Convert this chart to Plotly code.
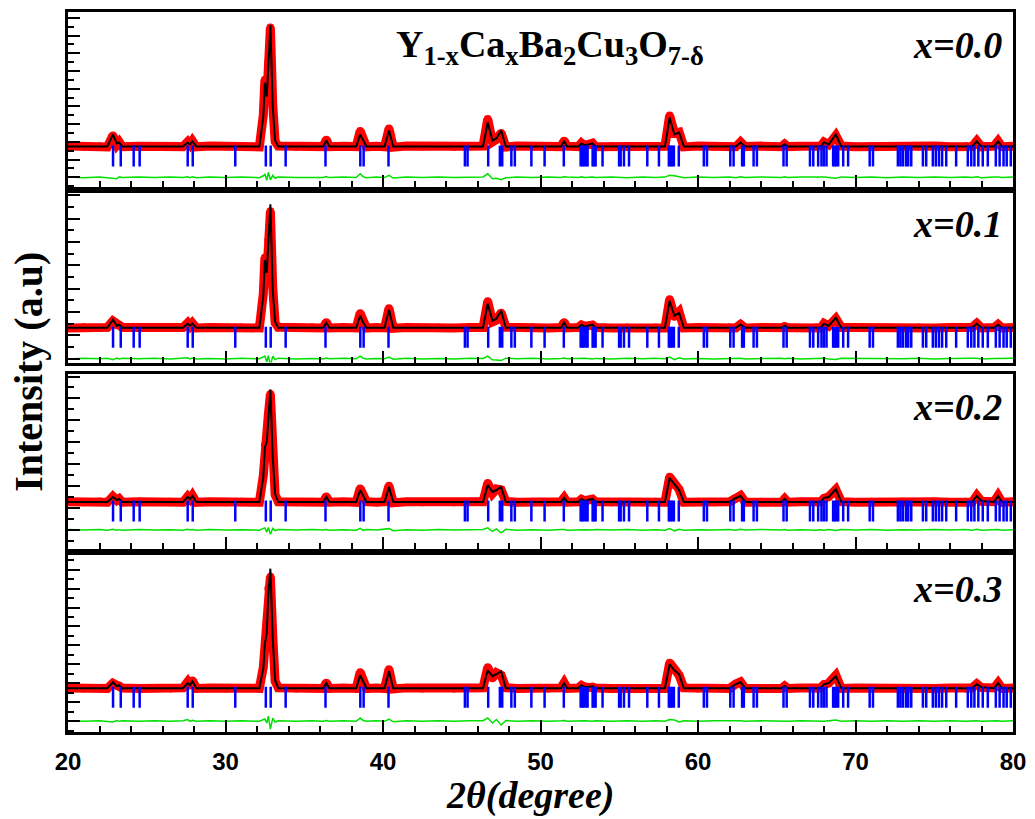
import plotly.graph_objects as go
from plotly.subplots import make_subplots

# ---------------- data ----------------
# common 2-theta grid (degrees)
two_theta = [
    20.0, 21.0, 22.0, 22.5, 22.85, 23.1, 23.25, 23.45, 24.5, 25.5,
    26.5, 27.3, 27.6, 27.75, 27.9, 28.15, 29.0, 30.0, 31.0, 32.15,
    32.4, 32.5, 32.62, 32.72, 32.85, 33.0, 33.15, 33.35, 34.5, 35.5,
    36.2, 36.4, 36.6, 37.5, 38.3, 38.55, 38.75, 38.95, 39.6, 40.1,
    40.38, 40.65, 41.5, 42.5, 43.5, 44.5, 45.5, 46.35, 46.65, 46.95,
    47.2, 47.5, 47.8, 48.5, 49.5, 50.5, 51.3, 51.5, 51.7, 52.4,
    52.6, 52.8, 53.3, 53.5, 54.5, 55.5, 56.5, 57.3, 57.9, 58.2,
    58.5, 58.8, 59.1, 60.0, 61.0, 62.0, 62.4, 62.7, 63.0, 64.0,
    65.3, 65.5, 65.7, 66.5, 67.5, 67.8, 68.0, 68.3, 68.75, 69.1,
    70.0, 71.0, 72.0, 73.0, 74.0, 75.0, 76.0, 77.0, 77.4, 77.7,
    78.0, 78.8, 79.05, 79.3, 80.0,
]

# calculated intensity above background (a.u.)
calc_x00 = [
    0, 0, 0, 0, 12, 3, 4, 0, 0, 0,
    0, 0, 4, 2, 5, 0, 0, 0, 0, 0,
    30, 64, 50, 80, 122, 40, 6, 0, 0, 0,
    0, 6, 0, 0, 0, 12, 6, 0, 0, 0,
    16, 0, 0, 0, 0, 0, 0, 0, 24, 6,
    8, 16, 0, 0, 0, 0, 0, 5, 0, 0,
    3, 1, 3, 0, 0, 0, 0, 0, 0, 29,
    12, 14, 0, 0, 0, 0, 0, 4, 0, 0,
    0, 2, 0, 0, 0, 0, 4, 2, 12, 0,
    0, 0, 0, 0, 0, 0, 0, 0, 0, 5,
    0, 0, 5, 0, 0,
]
calc_x01 = [
    0, 0, 0, 0, 8, 2, 3, 0, 0, 0,
    0, 0, 4, 2, 4, 0, 0, 0, 0, 0,
    32, 68, 55, 85, 124, 38, 6, 0, 0, 0,
    0, 5, 0, 0, 0, 12, 5, 0, 0, 0,
    18, 0, 0, 0, 0, 0, 0, 0, 24, 7,
    9, 17, 0, 0, 0, 0, 0, 5, 0, 0,
    3, 1, 3, 0, 0, 0, 0, 0, 0, 27,
    12, 15, 0, 0, 0, 0, 0, 3, 0, 0,
    0, 2, 0, 0, 0, 0, 4, 2, 10, 0,
    0, 0, 0, 0, 0, 0, 0, 0, 0, 4,
    0, 0, 3, 0, 0,
]
calc_x02 = [
    0, 0, 0, 0, 5, 2, 3, 0, 0, 0,
    0, 0, 5, 3, 6, 0, 0, 0, 0, 0,
    25, 55, 60, 85, 113, 45, 8, 0, 0, 0,
    0, 5, 0, 0, 0, 12, 6, 0, 0, 0,
    15, 0, 0, 0, 0, 0, 0, 0, 17, 10,
    12, 15, 0, 0, 0, 0, 0, 4, 0, 0,
    3, 1, 3, 0, 0, 0, 0, 0, 0, 24,
    18, 12, 0, 0, 0, 0, 4, 6, 0, 0,
    0, 3, 0, 0, 0, 0, 4, 5, 13, 0,
    0, 0, 0, 0, 0, 0, 0, 0, 0, 6,
    1, 0, 6, 0, 0,
]
calc_x03 = [
    0, 0, 0, 0, 6, 2, 3, 0, 0, 0,
    0, 0, 5, 3, 7, 0, 0, 0, 0, 0,
    20, 45, 55, 95, 120, 50, 8, 0, 0, 0,
    0, 5, 0, 0, 0, 13, 6, 0, 0, 0,
    17, 0, 0, 0, 0, 0, 0, 0, 18, 12,
    14, 17, 0, 0, 0, 0, 0, 5, 0, 0,
    3, 1, 2, 0, 0, 0, 0, 0, 0, 24,
    18, 14, 0, 0, 0, 0, 4, 6, 0, 0,
    0, 2, 0, 0, 0, 0, 4, 5, 12, 0,
    0, 0, 0, 0, 0, 0, 0, 0, 0, 4,
    1, 0, 5, 0, 0,
]

# difference Yobs - Ycalc (a.u.)
diff_x00 = [
    0.3, -0.4, 0.2, -0.5, -1.0, -1.5, 0.5, -0.3, 0.2, -0.3,
    0.4, -0.2, 0.6, -0.3, 0.5, -0.4, 0.3, -0.2, 0.2, -0.4,
    1.5, 3.0, -3.0, 5.0, -2.5, 2.0, -1.0, 0.3, -0.3, 0.2,
    -0.2, 0.8, -0.3, 0.2, -0.2, 3.5, 0.5, -0.4, 0.2, -0.3,
    2.0, -0.8, 0.3, -0.2, 0.4, -0.3, 0.2, 0.3, 3.5, -1.5,
    -1.0, -2.5, -0.5, 0.3, -0.3, 0.2, -0.2, 0.6, 0.2, -0.3,
    0.4, -0.2, 0.3, -0.3, 0.2, -0.4, 0.3, -0.2, 0.2, 2.0,
    1.5, 0.3, -0.5, 0.3, -0.3, 0.2, -0.4, 0.5, -0.2, 0.3,
    -0.3, 0.4, -0.2, 0.2, -0.3, 0.3, 0.4, -0.2, -1.0, 0.4,
    -0.3, 0.2, -0.4, 0.3, -0.2, 0.3, -0.3, 0.2, -0.2, 0.5,
    -0.4, 0.3, 0.4, -0.3, 0.2,
]
diff_x01 = [
    -0.3, 0.4, -0.2, 0.3, -1.2, 0.5, -0.4, 0.3, -0.2, 0.4,
    -0.3, 0.2, 0.8, -0.4, 0.6, -0.3, 0.2, -0.4, 0.3, -0.2,
    2.0, 2.5, -3.5, 3.0, -7.0, 2.5, -1.0, 0.4, -0.3, 0.2,
    -0.3, 0.5, -0.2, 0.3, -0.2, 2.5, 0.4, -0.3, 0.2, -0.2,
    1.5, -0.6, 0.3, -0.3, 0.2, -0.4, 0.3, 0.2, 2.5, -1.2,
    -1.5, -2.0, 0.4, -0.2, 0.3, -0.3, 0.2, 0.5, -0.2, 0.3,
    -0.2, 0.3, -0.3, 0.2, -0.4, 0.3, -0.2, 0.3, -0.2, 1.5,
    -1.0, 0.8, -0.3, 0.2, -0.3, 0.3, -0.2, 0.4, -0.3, 0.2,
    0.3, -0.2, 0.3, -0.3, 0.2, -0.2, 0.3, -0.3, -0.8, 0.3,
    0.2, -0.3, 0.3, -0.2, 0.3, -0.3, 0.2, -0.2, 0.3, 0.4,
    -0.3, 0.2, 0.3, -0.2, 0.3,
]
diff_x02 = [
    0.3, -0.2, 0.4, -0.3, 0.6, -0.4, 0.2, -0.3, 0.3, -0.2,
    0.2, -0.3, 0.5, -0.2, 0.4, -0.3, 0.3, -0.2, 0.2, -0.3,
    1.5, 2.0, -2.5, 2.5, -4.5, 1.5, -0.8, 0.3, -0.2, 0.3,
    -0.2, 0.4, -0.3, 0.2, -0.3, 1.5, -0.5, 0.3, -0.2, 0.3,
    1.2, -0.8, 0.2, -0.3, 0.3, -0.2, 0.3, 0.3, 2.0, -1.5,
    1.0, -3.0, 0.5, -0.3, 0.2, -0.3, 0.3, 0.4, -0.3, 0.2,
    -0.3, 0.2, -0.2, 0.3, -0.2, 0.3, -0.3, 0.2, -0.3, 1.2,
    -1.0, 0.6, -0.3, 0.2, -0.2, 0.3, -0.3, 0.5, -0.2, 0.3,
    -0.2, 0.3, -0.3, 0.2, -0.3, 0.2, -0.3, 0.3, -0.6, 0.3,
    -0.2, 0.3, -0.3, 0.2, -0.2, 0.3, -0.2, 0.3, -0.3, 0.5,
    -0.4, 0.2, 0.4, -0.3, 0.2,
]
diff_x03 = [
    0.3, -0.3, 0.2, -0.4, -1.0, 0.4, -0.3, 0.2, -0.3, 0.3,
    -0.2, 0.3, 1.5, -0.4, 0.8, -0.3, 0.2, -0.3, 0.3, -0.2,
    1.0, 2.0, -2.0, 5.0, -8.0, 3.0, -1.0, 0.3, -0.3, 0.2,
    -0.3, 0.5, -0.2, 0.3, -0.2, 3.0, 0.5, -0.3, 0.2, -0.3,
    2.0, -0.8, 0.3, -0.2, 0.3, -0.3, 0.2, 0.4, 3.0, -2.0,
    1.5, -4.0, 0.5, -0.3, 0.3, -0.2, 0.3, 0.5, -0.3, 0.2,
    -0.2, 0.3, -0.3, 0.2, -0.3, 0.2, -0.3, 0.3, -0.2, 1.5,
    1.0, -1.0, 0.3, -0.2, 0.3, -0.3, 0.2, 0.4, -0.3, 0.2,
    -0.3, 0.2, -0.2, 0.3, -0.2, 0.3, -0.3, 0.2, 1.0, -0.3,
    0.3, -0.2, 0.3, -0.3, 0.2, -0.3, 0.2, -0.3, 0.2, 0.3,
    -0.3, 0.3, 0.4, -0.2, 0.3,
]

# Bragg reflection positions (degrees)
bragg_positions = [
    22.86, 23.35, 24.17, 24.55, 27.60, 27.92, 30.62, 32.56, 32.87, 33.82,
    36.35, 38.56, 38.77, 40.35, 45.20, 45.37, 46.68, 47.42, 47.57, 48.15,
    48.37, 49.42, 50.26, 51.48, 52.55, 52.65, 52.75, 52.90, 52.99, 53.31,
    53.40, 53.50, 53.94, 54.99, 55.09, 55.30, 55.62, 56.78, 57.52, 58.15,
    58.25, 58.35, 58.47, 58.78, 60.37, 60.57, 62.05, 62.26, 62.80, 62.91,
    63.53, 63.74, 65.43, 65.63, 67.11, 67.32, 67.63, 67.84, 67.99, 68.16,
    68.58, 68.68, 68.78, 68.90, 69.22, 69.53, 70.90, 71.11, 72.69, 72.85,
    73.00, 73.20, 73.35, 73.54, 74.28, 74.49, 74.91, 75.10, 75.30, 75.50,
    75.76, 76.39, 77.13, 77.35, 77.55, 77.80, 78.08, 78.40, 78.91, 79.15,
    79.40, 79.60, 79.86,
]

panel_labels = ["x=0.0", "x=0.1", "x=0.2", "x=0.3"]
x_tick_values = [20, 30, 40, 50, 60, 70, 80]

# ---------------- layout settings ----------------
calcs = [calc_x00, calc_x01, calc_x02, calc_x03]
diffs = [diff_x00, diff_x01, diff_x02, diff_x03]
y_ranges = [(-41, 135), (-35, 135), (-47, 129), (-44, 134)]
diff_offsets = [-31, -31, -28, -33]
bragg_offsets = [-9.5, -9.5, -9, -9]
tick_steps = [8.9, 11.7, 11.0, 9.5]
domains = [(0.7566, 1.0), (0.5131, 0.7483), (0.2545, 0.4979), (0.0, 0.2462)]
label_y = [0.954, 0.705, 0.452, 0.199]

W, H = 1035, 819
fig = make_subplots(rows=4, cols=1, shared_xaxes=True, vertical_spacing=0.01)

for i in range(4):
    r = i + 1
    obs = [c + d for c, d in zip(calcs[i], diffs[i])]
    fig.add_trace(go.Scatter(
        x=two_theta, y=obs, mode="lines+markers",
        line=dict(color="#ff0000", width=9),
        marker=dict(color="#ff0000", size=8),
        hoverinfo="skip"), row=r, col=1)
    fig.add_trace(go.Scatter(
        x=two_theta, y=calcs[i], mode="lines",
        line=dict(color="#000000", width=2),
        hoverinfo="skip"), row=r, col=1)
    fig.add_trace(go.Scatter(
        x=bragg_positions, y=[bragg_offsets[i]] * len(bragg_positions),
        mode="markers",
        marker=dict(symbol="line-ns", size=15, color="#0000ff",
                    line=dict(width=2.5, color="#0000ff")),
        hoverinfo="skip"), row=r, col=1)
    fig.add_trace(go.Scatter(
        x=two_theta, y=[diff_offsets[i] + d for d in diffs[i]], mode="lines",
        line=dict(color="#00e000", width=1.5),
        hoverinfo="skip"), row=r, col=1)

    fig.update_yaxes(
        row=r, col=1, domain=list(domains[i]), range=list(y_ranges[i]),
        showticklabels=False, showgrid=False, zeroline=False,
        ticks="inside", ticklen=12, tickwidth=2, tickcolor="black",
        tick0=diff_offsets[i], dtick=2 * tick_steps[i],
        minor=dict(ticks="inside", ticklen=6, tickwidth=2, tickcolor="black",
                   tick0=diff_offsets[i], dtick=tick_steps[i]),
        showline=True, linewidth=3, linecolor="black", mirror=True)
    fig.update_xaxes(
        row=r, col=1, range=[20, 80], tickvals=x_tick_values,
        ticktext=[str(v) for v in x_tick_values],
        showgrid=False, zeroline=False,
        ticks="inside", ticklen=12, tickwidth=2, tickcolor="black",
        minor=dict(ticks="inside", ticklen=6, tickwidth=2, tickcolor="black",
                   tick0=20, dtick=2),
        showline=True, linewidth=3, linecolor="black", mirror=True,
        tickfont=dict(family="Liberation Sans", size=24, color="black", weight="bold"),
        ticklabelstandoff=6)

annotations = []
for i in range(4):
    annotations.append(dict(
        xref="paper", yref="paper", x=0.990, y=label_y[i],
        xanchor="right", yanchor="middle", showarrow=False,
        text="<b><i>" + panel_labels[i] + "</i></b>",
        font=dict(family="Liberation Serif", size=38, color="black")))
annotations.append(dict(
    xref="paper", yref="paper", x=0.3446, y=0.952,
    xanchor="left", yanchor="middle", showarrow=False,
    text="<b>Y<sub>1-x</sub>Ca<sub>x</sub>Ba<sub>2</sub>Cu<sub>3</sub>O<sub>7-δ</sub></b>",
    font=dict(family="Liberation Serif", size=38, color="black")))
annotations.append(dict(
    xref="paper", yref="paper", x=0.489, y=-0.088,
    xanchor="center", yanchor="middle", showarrow=False,
    text="<b><i>2θ(degree)</i></b>",
    font=dict(family="Liberation Serif", size=38, color="black")))
annotations.append(dict(
    xref="paper", yref="paper", x=-0.042, y=0.5007,
    xanchor="center", yanchor="middle", showarrow=False, textangle=-90,
    text="<b>Intensity (a.u)</b>",
    font=dict(family="Liberation Serif", size=40, color="black")))

fig.update_layout(
    width=W, height=H,
    margin=dict(l=68, r=18, t=9, b=87),
    paper_bgcolor="white", plot_bgcolor="white",
    showlegend=False,
    annotations=annotations,
)

fig.write_html("out.html")
